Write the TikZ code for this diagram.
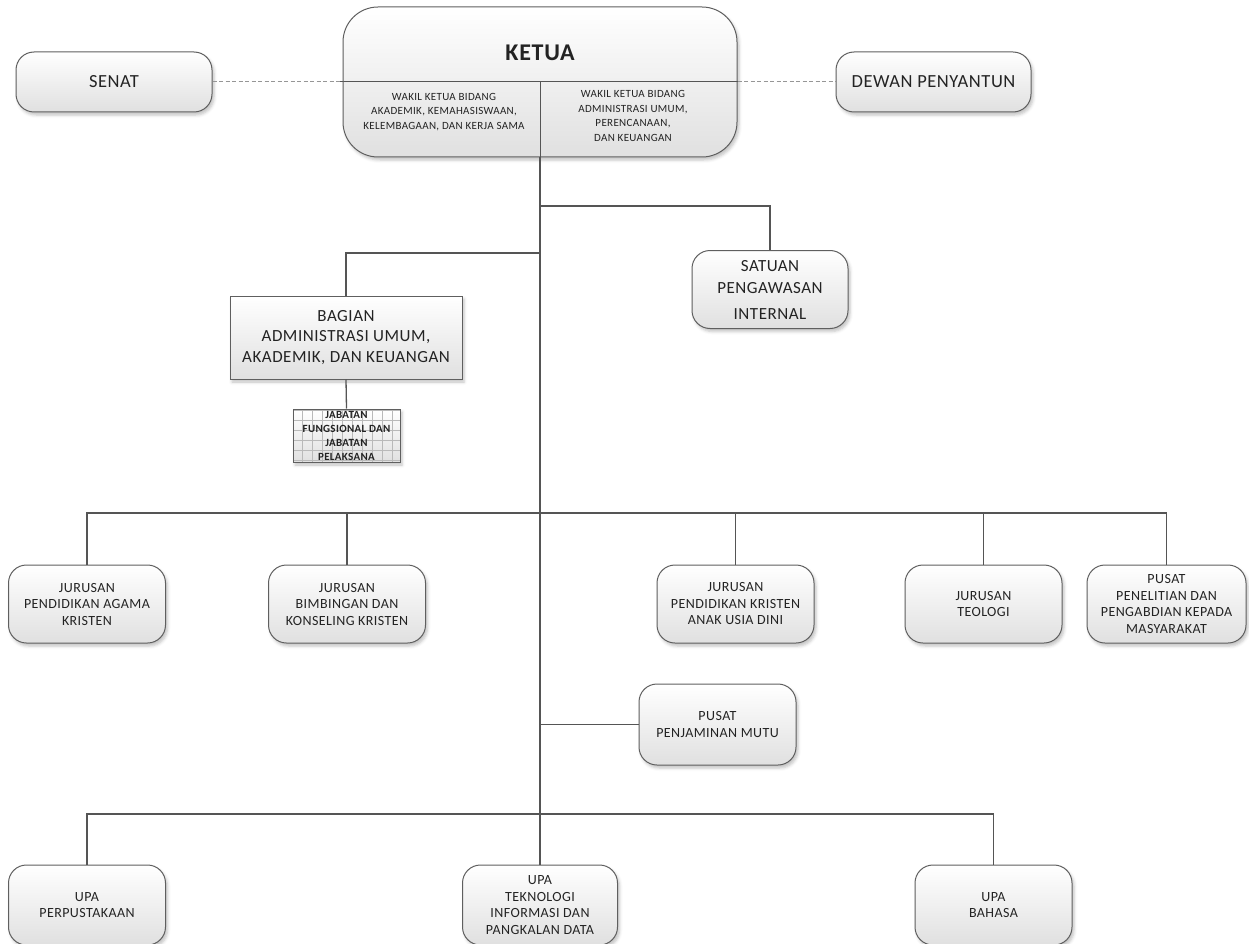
\documentclass[tikz,border=0pt]{standalone}
\usepackage{fontspec}
\setmainfont{Carlito}[LetterSpace=3]
\usetikzlibrary{shadows.blur}
\definecolor{boxline}{RGB}{95,95,95}
\definecolor{lincol}{RGB}{85,85,85}
\definecolor{txt}{RGB}{35,35,35}
\definecolor{boxbot}{RGB}{224,224,224}
\definecolor{dashcol}{RGB}{150,150,150}
\definecolor{gridcol}{RGB}{185,185,185}
\tikzset{
  shad/.style={blur shadow={shadow xshift=2pt,shadow yshift=-3pt,shadow blur radius=3pt,shadow opacity=24}},
  rbox/.style={draw=boxline,line width=1pt,rounded corners=18pt,top color=white,bottom color=boxbot,shad,
    align=center,text=txt,inner sep=0pt,font=\fontsize{14}{16.5}\selectfont},
  sbox/.style={rbox,rounded corners=0pt},
  wbox/.style={minimum width=157pt,minimum height=78pt},
  conn/.style={draw=lincol,line width=1.3pt},
  trunk/.style={draw=lincol,line width=2.2pt},
  dashline/.style={draw=dashcol,line width=1pt,dash pattern=on 4pt off 2.5pt},
  small/.style={align=center,text=txt,font=\fontsize{11}{14.5}\selectfont,inner sep=0pt},
}
\begin{document}
\begin{tikzpicture}[x=1pt,y=-1pt]
\useasboundingbox (0,0) rectangle (1249,944);

% top
\node[rbox,minimum width=394pt,minimum height=150pt,rounded corners=35pt,
  top color=white,middle color=white,bottom color=boxbot] (ketua) at (540,82) {};
\node[text=txt,font=\bfseries\fontsize{24}{28}\selectfont] (kt) at (540,53) {KETUA};
\node[small] (wk1) at (444,112) {WAKIL KETUA BIDANG\\AKADEMIK, KEMAHASISWAAN,\\KELEMBAGAAN, DAN KERJA SAMA};
\node[small] (wk2) at (633,116) {WAKIL KETUA BIDANG\\ADMINISTRASI UMUM,\\PERENCANAAN,\\DAN KEUANGAN};
\coordinate (kl) at ([xshift=-4pt]ketua.west);
\coordinate (kr) at ([xshift=4pt]ketua.east);
\coordinate (kc) at (540,82);
\draw[draw=lincol,line width=1pt] (kl) -- (kr);
\draw[draw=lincol,line width=1pt] (kc) -- (ketua.south);

\node[rbox,minimum width=196pt,minimum height=60pt,font=\fontsize{18.5}{22}\selectfont] (senat) at (114,82) {SENAT};
\node[rbox,minimum width=195pt,minimum height=60pt,font=\fontsize{18.5}{22}\selectfont] (dewan) at (933.5,82) {DEWAN PENYANTUN};
\draw[dashline] (senat.east) -- (ketua.west);
\draw[dashline] (ketua.east) -- (dewan.west);

% satuan / bagian
\node[rbox,minimum width=156pt,minimum height=78pt,font=\fontsize{17}{22}\selectfont] (satuan) at (770,289.5)
  {SATUAN\\PENGAWASAN\\[4pt]INTERNAL};
\node[sbox,minimum width=232pt,minimum height=83pt,font=\fontsize{17}{20.5}\selectfont] (bagian) at (346,337.5)
  {BAGIAN\\ADMINISTRASI UMUM,\\AKADEMIK, DAN KEUANGAN};
\node[sbox,fill=white,minimum width=107pt,minimum height=53pt,font=\bfseries\fontsize{11}{14}\selectfont,
  path picture={\draw[gridcol,line width=0.6pt,step=10pt] (path picture bounding box.south west) grid (path picture bounding box.north east);}]
  (jabatan) at (346.5,435.5) {JABATAN\\FUNGSIONAL DAN\\JABATAN\\PELAKSANA};

% jurusan row
\node[rbox,wbox] (jpak) at (87,604) {JURUSAN\\PENDIDIKAN AGAMA\\KRISTEN};
\node[rbox,wbox] (jbk) at (347,604) {JURUSAN\\BIMBINGAN DAN\\KONSELING KRISTEN};
\node[rbox,wbox] (jpkaud) at (735.5,604) {JURUSAN\\PENDIDIKAN KRISTEN\\ANAK USIA DINI};
\node[rbox,wbox] (teologi) at (983.5,604) {JURUSAN\\TEOLOGI};
\node[rbox,wbox,minimum width=159pt] (ppkm) at (1166.5,604) {PUSAT\\PENELITIAN DAN\\PENGABDIAN KEPADA\\MASYARAKAT};

\node[rbox,minimum width=157pt,minimum height=81pt] (pjm) at (717.5,724.5) {PUSAT\\PENJAMINAN MUTU};

% UPA row
\node[rbox,wbox,minimum height=80pt] (upap) at (87,905) {UPA\\PERPUSTAKAAN};
\node[rbox,wbox,minimum height=80pt,minimum width=155pt] (upatik) at (540,905) {UPA\\TEKNOLOGI\\INFORMASI DAN\\PANGKALAN DATA};
\node[rbox,wbox,minimum height=80pt] (upab) at (993.5,905) {UPA\\BAHASA};

% connectors
\coordinate (sB) at (540,206);
\coordinate (bB) at (540,253);
\coordinate (jB) at (540,513);
\coordinate (uB) at (540,814);
\draw[trunk] (ketua.south) -- (upatik.north);
\draw[conn] (sB) -| (satuan.north);
\draw[conn] (bB) -| (bagian.north);
\draw[conn] (bagian.south) -- (jabatan.north);
\draw[conn] (jpak.north) |- (jB) -| (ppkm.north);
\foreach \n in {jbk,jpkaud,teologi} \draw[conn] (\n.north) -- (\n.north |- jB);
\draw[conn] (pjm.west) -- (pjm.west -| jB);
\draw[conn] (upap.north) |- (uB) -| (upab.north);
\end{tikzpicture}
\end{document}
